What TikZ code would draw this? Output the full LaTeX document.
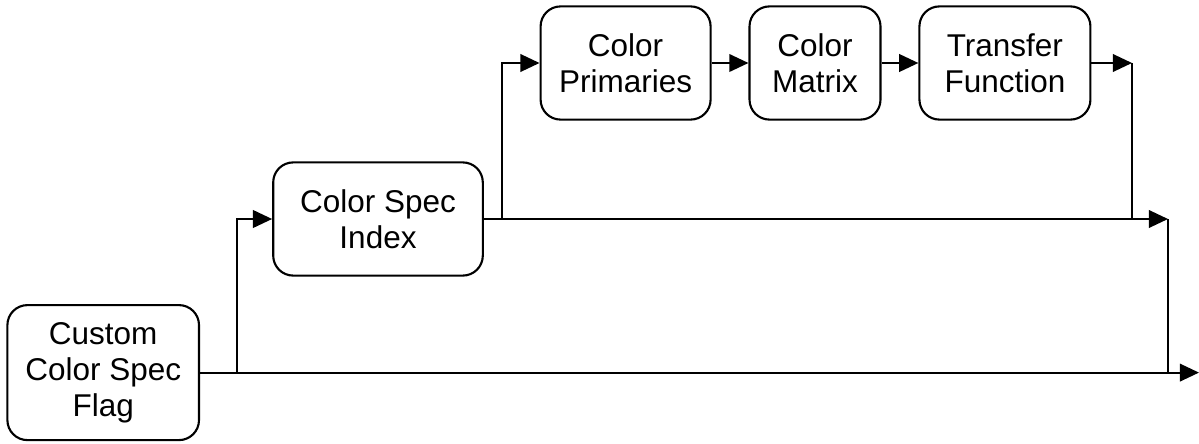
\documentclass[tikz,border=0pt]{standalone}
\usepackage{fontspec}
\setmainfont{Liberation Sans}
\usepackage{tikz}
\usetikzlibrary{arrows.meta,positioning}

\begin{document}
\begin{tikzpicture}[
  node distance=0.92cm,
  box/.style={draw, line width=1.5pt, rounded corners=0.5cm, align=center, fill=white,
    minimum height=2.83cm, inner sep=0pt, font=\fontsize{22.4}{25.6}\selectfont},
  arr/.style={-{Triangle[length=0.48cm,width=0.44cm]}, line width=1.5pt},
  wire/.style={line width=1.5pt}
]
\useasboundingbox (0,0) rectangle (29.975,11.075);
\node[box, minimum width=4.79cm, minimum height=3.375cm] (flag) at (2.58,1.76) {Custom\\Color Spec\\Flag};
\node[box, minimum width=5.24cm] (idx) at (9.45,5.6) {Color Spec\\Index};
\node[box, minimum width=4.25cm] (prim) at (15.64,9.5) {Color\\Primaries};
\node[box, minimum width=3.275cm, right=of prim] (mat) {Color\\Matrix};
\node[box, minimum width=4.275cm, right=of mat] (tf) {Transfer\\Function};
% split and merge columns
\coordinate (xsplit1) at (5.925,0);
\coordinate (xsplit2) at (12.55,0);
\coordinate (xmerge1) at (28.3,0);
\coordinate (xmerge2) at (29.2,0);
\coordinate (xout) at (29.975,0);
\draw[arr] (flag.east) -- (xout |- flag.east);
\draw[arr] (xsplit1 |- flag.east) |- (idx.west);
\draw[arr] (idx.east) -- (xmerge2 |- idx.east);
\draw[arr] (xsplit2 |- idx.east) |- (prim.west);
\draw[arr] (prim) -- (mat);
\draw[arr] (mat) -- (tf);
\draw[arr] (tf.east) -- (xmerge1 |- tf.east);
\draw[wire] (xmerge1 |- tf.east) -- (xmerge1 |- idx.east);
\draw[wire] (xmerge2 |- idx.east) -- (xmerge2 |- flag.east);
\end{tikzpicture}
\end{document}
